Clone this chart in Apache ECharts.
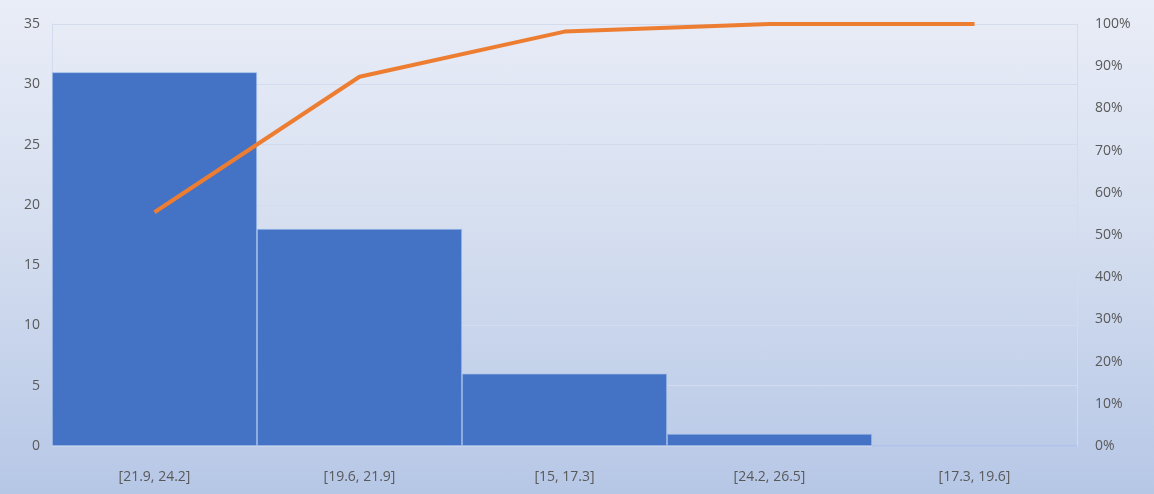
<!DOCTYPE html>
<html>
<head>
<meta charset="utf-8">
<script src="https://cdn.jsdelivr.net/npm/echarts@6/dist/echarts.min.js"></script>
<style>
html,body{margin:0;padding:0;}
#c{width:1154px;height:494px;background:linear-gradient(to bottom,#e9edf7 0%,#d6dff0 45%,#b6c7e6 100%);}
</style>
</head>
<body>
<div id="c"></div>
<script>
var categories = ['[21.9, 24.2]', '[19.6, 21.9]', '[15, 17.3]', '[24.2, 26.5]', '[17.3, 19.6]'];
var counts = [31, 18, 6, 1, 0];
var cumulativePct = [55.4, 87.5, 98.2, 100, 100];
var leftTicks = [0, 5, 10, 15, 20, 25, 30, 35];
var rightTicks = [0, 10, 20, 30, 40, 50, 60, 70, 80, 90, 100];

var chart = echarts.init(document.getElementById('c'), null, {renderer: 'canvas'});
var labelStyle = {color: '#595959', fontSize: 14, fontFamily: 'Open Sans, Liberation Sans, sans-serif'};
chart.setOption({
  backgroundColor: 'transparent',
  animation: false,
  grid: {left: 52, right: 77, top: 24, bottom: 48},
  xAxis: {
    type: 'category',
    data: categories,
    boundaryGap: true,
    axisLine: {show: true, lineStyle: {color: '#cdd7ec', width: 1}},
    axisTick: {show: false},
    axisLabel: Object.assign({margin: 24}, labelStyle)
  },
  yAxis: [{
    type: 'value',
    min: leftTicks[0],
    max: leftTicks[leftTicks.length - 1],
    interval: 5,
    axisLine: {show: true, lineStyle: {color: '#d3dcee'}},
    axisTick: {show: false},
    axisLabel: Object.assign({margin: 12}, labelStyle),
    splitLine: {show: true, lineStyle: {color: '#d3dbec', width: 1}}
  }, {
    type: 'value',
    min: rightTicks[0],
    max: rightTicks[rightTicks.length - 1],
    interval: 10,
    position: 'right',
    axisLine: {show: true, lineStyle: {color: '#d3dcee'}},
    axisTick: {show: false},
    axisLabel: Object.assign({margin: 18, formatter: '{value}%'}, labelStyle),
    splitLine: {show: false}
  }],
  series: [{
    type: 'bar',
    data: counts,
    yAxisIndex: 0,
    barCategoryGap: '0%',
    barWidth: '100%',
    itemStyle: {color: '#4472c4', borderColor: 'rgba(160,190,235,0.8)', borderWidth: 0.8}
  }, {
    type: 'line',
    data: cumulativePct,
    yAxisIndex: 1,
    symbol: 'none',
    lineStyle: {color: '#ed7d31', width: 4},
    z: 5
  }]
});
</script>
</body>
</html>
